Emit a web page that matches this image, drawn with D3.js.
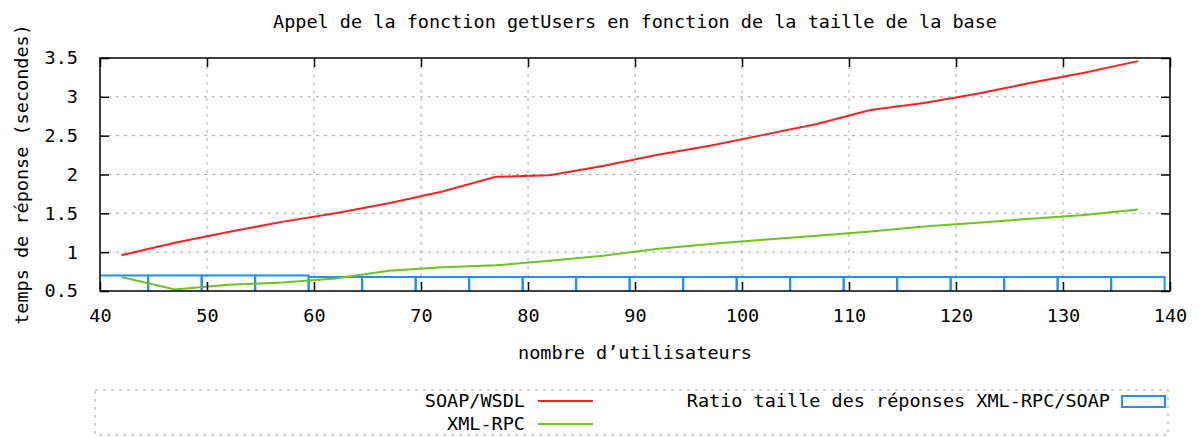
<!DOCTYPE html>
<html>
<head>
<meta charset="utf-8">
<script src="https://cdn.jsdelivr.net/npm/d3@7"></script>
<style>
  body { margin: 0; background: #fff; }
  text { font-family: "DejaVu Sans Mono", "Liberation Mono", monospace; font-size: 18.5px; fill: #000; }
</style>
</head>
<body>
<div id="chart"></div>
<script>
// Nombre d'utilisateurs dans la base
const users = [42, 47, 52, 57, 62, 67, 72, 77, 82, 87, 92, 97, 102, 107, 112, 117, 122, 127, 132, 137];
// Temps de réponse (secondes)
const soapWsdl = [0.96, 1.12, 1.26, 1.39, 1.5, 1.63, 1.78, 1.97, 1.99, 2.11, 2.25, 2.37, 2.51, 2.65, 2.83, 2.92, 3.04, 3.18, 3.31, 3.46];
const xmlRpc = [0.68, 0.52, 0.58, 0.61, 0.66, 0.76, 0.805, 0.83, 0.89, 0.955, 1.04, 1.106, 1.16, 1.21, 1.265, 1.33, 1.38, 1.43, 1.48, 1.55];
// Ratio taille des réponses XML-RPC/SOAP
const ratio = [0.7, 0.7, 0.7, 0.7, 0.68, 0.68, 0.68, 0.68, 0.68, 0.68, 0.68, 0.68, 0.68, 0.68, 0.68, 0.68, 0.68, 0.68, 0.68, 0.68];
const boxWidth = 5;

const xTicks = [40, 50, 60, 70, 80, 90, 100, 110, 120, 130, 140];
const yTicks = [0.5, 1, 1.5, 2, 2.5, 3, 3.5];

const width = 1199;
const height = 438;
const margin = { top: 58, right: 29, bottom: 147, left: 100 };
const innerRight = width - margin.right;
const innerBottom = height - margin.bottom;

const svg = d3
  .select("#chart")
  .append("svg")
  .attr("width", width)
  .attr("height", height);

const x = d3.scaleLinear().domain([40, 140]).range([margin.left, innerRight]);
const y = d3.scaleLinear().domain([0.5, 3.5]).range([innerBottom, margin.top]);

// Clip everything to the plot area
svg
  .append("defs")
  .append("clipPath")
  .attr("id", "plot-clip")
  .append("rect")
  .attr("x", margin.left)
  .attr("y", margin.top)
  .attr("width", innerRight - margin.left)
  .attr("height", innerBottom - margin.top);

// Title
svg
  .append("text")
  .attr("x", (margin.left + innerRight) / 2)
  .attr("y", 28)
  .attr("text-anchor", "middle")
  .text("Appel de la fonction getUsers en fonction de la taille de la base");

// Dashed grid
const grid = svg.append("g").attr("stroke", "#a8a8a8").attr("stroke-width", 1).attr("stroke-dasharray", "3,5");
grid
  .selectAll(".vgrid")
  .data(xTicks.slice(1, -1))
  .enter()
  .append("line")
  .attr("x1", (d) => x(d))
  .attr("x2", (d) => x(d))
  .attr("y1", margin.top)
  .attr("y2", innerBottom);
grid
  .selectAll(".hgrid")
  .data(yTicks.slice(1, -1))
  .enter()
  .append("line")
  .attr("x1", margin.left)
  .attr("x2", innerRight)
  .attr("y1", (d) => y(d))
  .attr("y2", (d) => y(d));

const plot = svg.append("g").attr("clip-path", "url(#plot-clip)");

// Ratio boxes
plot
  .selectAll(".box")
  .data(users.map((u, i) => ({ u, v: ratio[i] })))
  .enter()
  .append("rect")
  .attr("x", (d) => x(d.u - boxWidth / 2))
  .attr("width", (d) => x(d.u + boxWidth / 2) - x(d.u - boxWidth / 2))
  .attr("y", (d) => y(d.v))
  .attr("height", (d) => innerBottom + 5 - y(d.v))
  .attr("fill", "none")
  .attr("stroke", "#1e8fff")
  .attr("stroke-width", 2);

const line = d3
  .line()
  .x((d) => x(d[0]))
  .y((d) => y(d[1]));

plot
  .append("path")
  .datum(users.map((u, i) => [u, xmlRpc[i]]))
  .attr("d", line)
  .attr("fill", "none")
  .attr("stroke", "#6fc21e")
  .attr("stroke-width", 2);

plot
  .append("path")
  .datum(users.map((u, i) => [u, soapWsdl[i]]))
  .attr("d", line)
  .attr("fill", "none")
  .attr("stroke", "#ff2020")
  .attr("stroke-width", 2);

// Axes: ticks inside, mirrored on all sides
const tickLen = 9;
svg
  .append("g")
  .attr("transform", `translate(0,${innerBottom})`)
  .call(d3.axisBottom(x).tickValues(xTicks).tickSizeInner(-tickLen).tickSizeOuter(0).tickPadding(18))
  .call((g) => g.select(".domain").remove())
  .call((g) => g.selectAll("text").style("font-size", "18.5px").style("font-family", null));
svg
  .append("g")
  .attr("transform", `translate(0,${margin.top})`)
  .call(d3.axisTop(x).tickValues(xTicks).tickSizeInner(-tickLen).tickSizeOuter(0).tickFormat(""))
  .call((g) => g.select(".domain").remove());
svg
  .append("g")
  .attr("transform", `translate(${margin.left},0)`)
  .call(d3.axisLeft(y).tickValues(yTicks).tickSizeInner(-tickLen).tickSizeOuter(0).tickPadding(22).tickFormat(d3.format("")))
  .call((g) => g.select(".domain").remove())
  .call((g) => g.selectAll("text").style("font-size", "18.5px").style("font-family", null));
svg
  .append("g")
  .attr("transform", `translate(${innerRight},0)`)
  .call(d3.axisRight(y).tickValues(yTicks).tickSizeInner(-tickLen).tickSizeOuter(0).tickFormat(""))
  .call((g) => g.select(".domain").remove());
svg.selectAll(".tick line").attr("stroke", "#000").attr("stroke-width", 1.5);

// Border
svg
  .append("rect")
  .attr("x", margin.left)
  .attr("y", margin.top)
  .attr("width", innerRight - margin.left)
  .attr("height", innerBottom - margin.top)
  .attr("fill", "none")
  .attr("stroke", "#000")
  .attr("stroke-width", 1.5);

// Axis labels
svg
  .append("text")
  .attr("x", (margin.left + innerRight) / 2)
  .attr("y", 359)
  .attr("text-anchor", "middle")
  .text("nombre d’utilisateurs");
svg
  .append("text")
  .attr("transform", `translate(28,${(margin.top + innerBottom) / 2}) rotate(-90)`)
  .attr("text-anchor", "middle")
  .text("temps de réponse (secondes)");

// Legend
svg
  .append("rect")
  .attr("x", 95)
  .attr("y", 390)
  .attr("width", 1073)
  .attr("height", 45)
  .attr("fill", "none")
  .attr("stroke", "#a8a8a8")
  .attr("stroke-dasharray", "3,5");

const legendLines = [
  { label: "SOAP/WSDL", color: "#ff2020", y: 401 },
  { label: "XML-RPC", color: "#6fc21e", y: 424 },
];
legendLines.forEach((d) => {
  svg
    .append("text")
    .attr("x", 525)
    .attr("y", d.y)
    .attr("dy", "0.35em")
    .attr("text-anchor", "end")
    .text(d.label);
  svg
    .append("line")
    .attr("x1", 538)
    .attr("x2", 593)
    .attr("y1", d.y)
    .attr("y2", d.y)
    .attr("stroke", d.color)
    .attr("stroke-width", 2);
});
svg
  .append("text")
  .attr("x", 1110)
  .attr("y", 401)
  .attr("dy", "0.35em")
  .attr("text-anchor", "end")
  .text("Ratio taille des réponses XML-RPC/SOAP");
svg
  .append("rect")
  .attr("x", 1122)
  .attr("y", 396)
  .attr("width", 43)
  .attr("height", 11)
  .attr("fill", "none")
  .attr("stroke", "#1e8fff")
  .attr("stroke-width", 2);
</script>
</body>
</html>
